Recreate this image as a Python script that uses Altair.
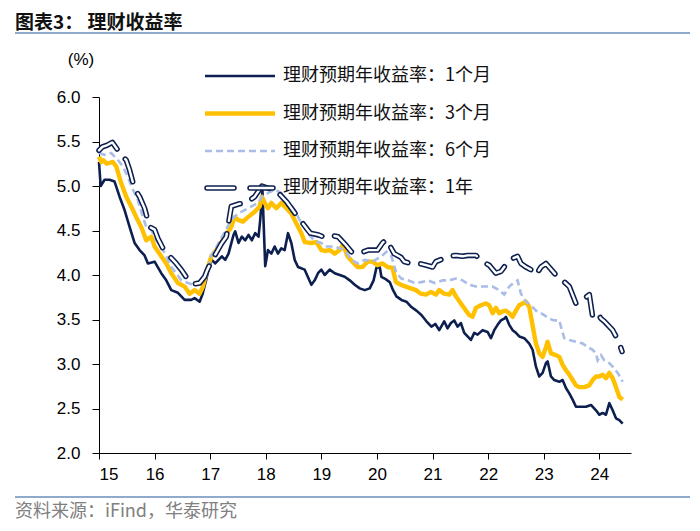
import altair as alt
import pandas as pd

# ---- data (decimal year, yield %) ----
m1_t = [2015.00, 2015.03, 2015.10, 2015.19, 2015.28, 2015.37, 2015.46, 2015.55, 2015.64, 2015.73, 2015.82, 2015.88,
        2016.00, 2016.12, 2016.21, 2016.30, 2016.42, 2016.54, 2016.66, 2016.72, 2016.81, 2016.86, 2016.93, 2016.98,
        2017.03, 2017.09, 2017.21, 2017.27, 2017.33, 2017.42, 2017.45, 2017.51, 2017.57, 2017.63, 2017.69, 2017.75,
        2017.81, 2017.87, 2017.90, 2017.94, 2017.99, 2018.04, 2018.10, 2018.16, 2018.22, 2018.28, 2018.34, 2018.40,
        2018.46, 2018.52, 2018.58, 2018.70, 2018.82, 2018.88, 2018.94, 2019.00, 2019.06, 2019.15, 2019.24, 2019.33,
        2019.42, 2019.51, 2019.60, 2019.69, 2019.78, 2019.87, 2019.94, 2019.99, 2020.05, 2020.08, 2020.14, 2020.23,
        2020.29, 2020.35, 2020.44, 2020.53, 2020.62, 2020.71, 2020.80, 2020.89, 2020.98, 2021.05, 2021.12, 2021.21,
        2021.27, 2021.33, 2021.39, 2021.45, 2021.51, 2021.57, 2021.63, 2021.69, 2021.75, 2021.81, 2021.90, 2021.99,
        2022.05, 2022.11, 2022.17, 2022.23, 2022.29, 2022.32, 2022.38, 2022.44, 2022.50, 2022.56, 2022.65, 2022.74,
        2022.80, 2022.86, 2022.92, 2022.98, 2023.04, 2023.07, 2023.13, 2023.19, 2023.28, 2023.34, 2023.40, 2023.46,
        2023.52, 2023.58, 2023.67, 2023.76, 2023.85, 2023.94, 2024.00, 2024.06, 2024.12, 2024.18, 2024.24, 2024.30,
        2024.36, 2024.42]
m1_v = [5.27, 5.00, 5.07, 5.07, 5.05, 4.88, 4.73, 4.54, 4.36, 4.28, 4.22, 4.13,
        4.15, 4.02, 3.94, 3.83, 3.80, 3.72, 3.72, 3.74, 3.70, 3.78, 3.95, 4.10,
        4.17, 4.13, 4.21, 4.17, 4.24, 4.45, 4.49, 4.36, 4.43, 4.39, 4.45, 4.39,
        4.47, 4.43, 4.62, 4.95, 4.10, 4.28, 4.24, 4.32, 4.24, 4.30, 4.28, 4.47,
        4.36, 4.17, 4.09, 4.06, 3.89, 3.94, 4.02, 4.06, 4.00, 4.06, 4.02, 4.00,
        3.98, 3.94, 3.89, 3.85, 3.83, 3.85, 3.94, 4.08, 4.09, 3.98, 3.96, 3.92,
        3.83, 3.76, 3.72, 3.70, 3.64, 3.60, 3.55, 3.48, 3.42, 3.45, 3.38, 3.48,
        3.40, 3.46, 3.49, 3.42, 3.46, 3.35, 3.31, 3.27, 3.35, 3.33, 3.38, 3.36,
        3.29, 3.38, 3.44, 3.49, 3.51, 3.53, 3.44, 3.38, 3.35, 3.31, 3.29, 3.23,
        3.16, 2.97, 2.86, 2.90, 3.01, 3.03, 2.86, 2.82, 2.80, 2.82, 2.73, 2.67,
        2.60, 2.52, 2.52, 2.52, 2.54, 2.48, 2.43, 2.45, 2.43, 2.56, 2.48, 2.39,
        2.37, 2.33]

m3_t = [2015.00, 2015.04, 2015.08, 2015.14, 2015.25, 2015.31, 2015.40, 2015.49, 2015.58, 2015.67, 2015.76, 2015.85,
        2015.94, 2016.00, 2016.12, 2016.21, 2016.30, 2016.42, 2016.54, 2016.63, 2016.72, 2016.81, 2016.87, 2016.93,
        2017.02, 2017.11, 2017.20, 2017.26, 2017.38, 2017.44, 2017.50, 2017.59, 2017.68, 2017.80, 2017.89, 2017.93,
        2017.98, 2018.04, 2018.10, 2018.19, 2018.28, 2018.37, 2018.46, 2018.55, 2018.64, 2018.70, 2018.82, 2018.91,
        2019.00, 2019.06, 2019.15, 2019.24, 2019.33, 2019.39, 2019.47, 2019.56, 2019.65, 2019.74, 2019.83, 2019.92,
        2020.01, 2020.10, 2020.19, 2020.28, 2020.34, 2020.43, 2020.52, 2020.61, 2020.70, 2020.79, 2020.88, 2020.97,
        2021.06, 2021.12, 2021.21, 2021.30, 2021.36, 2021.42, 2021.51, 2021.60, 2021.66, 2021.72, 2021.78, 2021.87,
        2021.96, 2022.02, 2022.08, 2022.14, 2022.20, 2022.26, 2022.32, 2022.38, 2022.44, 2022.50, 2022.56, 2022.62,
        2022.68, 2022.74, 2022.78, 2022.86, 2022.92, 2022.98, 2023.04, 2023.07, 2023.13, 2023.22, 2023.28, 2023.34,
        2023.40, 2023.46, 2023.52, 2023.58, 2023.64, 2023.73, 2023.82, 2023.88, 2023.94, 2024.00, 2024.06, 2024.12,
        2024.18, 2024.24, 2024.30, 2024.36, 2024.42]
m3_v = [5.33, 5.27, 5.29, 5.25, 5.27, 5.22, 5.03, 4.88, 4.77, 4.65, 4.54, 4.39,
        4.43, 4.32, 4.21, 4.13, 4.02, 3.91, 3.87, 3.79, 3.83, 3.79, 3.87, 4.02,
        4.21, 4.28, 4.37, 4.43, 4.54, 4.65, 4.62, 4.60, 4.65, 4.71, 4.77, 4.88,
        4.81, 4.75, 4.81, 4.75, 4.81, 4.75, 4.69, 4.58, 4.47, 4.37, 4.36, 4.37,
        4.28, 4.27, 4.28, 4.24, 4.28, 4.34, 4.21, 4.15, 4.09, 4.09, 4.15, 4.15,
        4.11, 4.13, 4.09, 4.08, 3.92, 3.89, 3.87, 3.85, 3.83, 3.79, 3.78, 3.81,
        3.78, 3.83, 3.79, 3.78, 3.83, 3.76, 3.68, 3.60, 3.55, 3.53, 3.63, 3.66,
        3.68, 3.66, 3.57, 3.63, 3.57, 3.59, 3.60, 3.57, 3.53, 3.60, 3.66, 3.68,
        3.70, 3.64, 3.50, 3.23, 3.12, 3.08, 3.19, 3.25, 3.12, 3.10, 3.08, 2.99,
        2.93, 2.88, 2.82, 2.76, 2.74, 2.74, 2.76, 2.82, 2.86, 2.86, 2.88, 2.84,
        2.90, 2.84, 2.74, 2.63, 2.60]

m6_t = [2015.00, 2015.10, 2015.22, 2015.34, 2015.43, 2015.52, 2015.61, 2015.70, 2015.79, 2015.85, 2015.94, 2016.03,
        2016.12, 2016.21, 2016.30, 2016.39, 2016.48, 2016.60, 2016.72, 2016.84, 2016.93, 2017.02, 2017.10, 2017.38,
        2017.50, 2017.68, 2017.86, 2017.93, 2018.04, 2018.16, 2018.28, 2018.40, 2018.52, 2018.64, 2018.76, 2018.88,
        2019.00, 2019.06, 2019.24, 2019.42, 2019.54, 2019.66, 2019.78, 2019.92, 2020.08, 2020.17, 2020.26, 2020.35,
        2020.44, 2020.56, 2020.68, 2020.80, 2020.92, 2021.04, 2021.18, 2021.30, 2021.42, 2021.54, 2021.66, 2021.78,
        2021.93, 2022.08, 2022.20, 2022.29, 2022.38, 2022.47, 2022.53, 2022.59, 2022.68, 2022.77, 2022.86, 2022.98,
        2023.10, 2023.19, 2023.28, 2023.31, 2023.37, 2023.46, 2023.58, 2023.70, 2023.79, 2023.88, 2023.94, 2023.97,
        2024.03, 2024.09, 2024.18, 2024.27, 2024.33, 2024.39, 2024.42]
m6_v = [5.37, 5.35, 5.37, 5.29, 5.22, 5.10, 4.96, 4.84, 4.65, 4.54, 4.51, 4.39,
        4.32, 4.21, 4.09, 4.02, 3.94, 3.91, 3.89, 3.91, 3.98, 4.22, 4.30, 4.62,
        4.69, 4.75, 4.81, 4.88, 4.92, 4.96, 4.92, 4.82, 4.73, 4.58, 4.47, 4.38,
        4.36, 4.32, 4.32, 4.28, 4.17, 4.13, 4.17, 4.15, 4.21, 4.26, 4.21, 4.02,
        3.96, 3.94, 3.91, 3.92, 3.94, 3.91, 3.94, 3.94, 3.96, 3.94, 3.89, 3.87,
        3.87, 3.87, 3.83, 3.78, 3.87, 3.92, 3.94, 3.79, 3.70, 3.66, 3.60, 3.56,
        3.51, 3.49, 3.49, 3.42, 3.29, 3.27, 3.25, 3.23, 3.19, 3.16, 3.12, 3.04,
        3.10, 3.04, 3.01, 2.95, 2.90, 2.84, 2.80]

y1_t = [2015.00, 2015.06, 2015.15, 2015.24, 2015.40, 2015.49, 2015.55, 2015.64, 2015.73, 2015.82, 2015.91, 2016.00,
        2016.06, 2016.15, 2016.27, 2016.39, 2016.48, 2016.63, 2016.72, 2016.81, 2016.90, 2016.95, 2017.02, 2017.11,
        2017.20, 2017.29, 2017.38, 2017.52, 2017.65, 2017.80, 2017.93, 2018.11, 2018.20, 2018.38, 2018.53, 2018.80,
        2018.95, 2019.03, 2019.15, 2019.30, 2019.42, 2019.54, 2019.66, 2019.84, 2020.01, 2020.10, 2020.17, 2020.31,
        2020.43, 2020.49, 2020.60, 2020.76, 2020.88, 2021.00, 2021.06, 2021.18, 2021.30, 2021.42, 2021.54, 2021.63,
        2021.78, 2021.87, 2021.96, 2022.02, 2022.14, 2022.23, 2022.29, 2022.38, 2022.53, 2022.59, 2022.68, 2022.80,
        2022.86, 2022.95, 2023.04, 2023.22, 2023.34, 2023.46, 2023.58, 2023.70, 2023.82, 2023.88, 2023.97, 2024.03,
        2024.09, 2024.24, 2024.30, 2024.36, 2024.41]
y1_v = [5.40, 5.44, 5.46, 5.49, 5.35, 5.29, 5.18, 4.97, 4.88, 4.75, 4.54, 4.51,
        4.41, 4.30, 4.21, 4.13, 4.06, 3.92, 3.90, 3.91, 3.98, 4.06, 4.15, 4.25,
        4.35, 4.43, 4.77, 4.80, 4.81, 4.88, 5.00, 4.96, 4.94, 4.82, 4.69, 4.47,
        4.45, 4.43, 4.45, 4.43, 4.35, 4.26, 4.24, 4.28, 4.28, 4.36, 4.40, 4.24,
        4.20, 4.15, 4.13, 4.13, 4.11, 4.09, 4.15, 4.18, 4.21, 4.22, 4.21, 4.22,
        4.22, 4.17, 4.13, 4.11, 4.02, 4.04, 4.09, 4.17, 4.21, 4.13, 4.09, 4.05,
        4.00, 4.09, 4.13, 4.00, 3.94, 3.87, 3.68, 3.72, 3.78, 3.53, 3.57, 3.51,
        3.48, 3.38, 3.31, 3.23, 3.14]

year_ticks = [2015, 2016, 2017, 2018, 2019, 2020, 2021, 2022, 2023, 2024]
y_ticks = [2.0, 2.5, 3.0, 3.5, 4.0, 4.5, 5.0, 5.5, 6.0]
legend_labels = ["理财预期年收益率：1个月", "理财预期年收益率：3个月", "理财预期年收益率：6个月", "理财预期年收益率：1年"]
title_text = "图表3：  理财收益率"
source_text = "资料来源：iFind，华泰研究"

NAVY = "#0C1F4F"
GOLD = "#FFC000"
LBLUE = "#A9BDE7"
RULE = "#8FAACB"
LATIN = "Liberation Sans"
CJK = "Noto Sans CJK SC"


def frame(t, v):
    return pd.DataFrame({"t": t, "v": v})


X = alt.X("t:Q", scale=alt.Scale(domain=[2015, 2024.57], nice=False, zero=False),
          axis=alt.Axis(values=year_ticks, labelExpr="format(datum.value - 2000, 'd')", grid=False,
                        tickSize=6, labelPadding=7, domainColor="#000", tickColor="#000",
                        labelFontSize=17, labelFont=LATIN, labelColor="#000", title=None))
Y = alt.Y("v:Q", scale=alt.Scale(domain=[2, 6], nice=False, zero=False),
          axis=alt.Axis(values=y_ticks, format=".1f", grid=False, tickSize=7, labelPadding=12,
                        domainColor="#000", tickColor="#000", labelFontSize=17, labelFont=LATIN,
                        labelColor="#000", title=None))

l1 = alt.Chart(frame(m1_t, m1_v)).mark_line(color=NAVY, strokeWidth=2.6, strokeJoin="round").encode(x=X, y=Y)
l3 = alt.Chart(frame(m3_t, m3_v)).mark_line(color=GOLD, strokeWidth=4.4, strokeJoin="round").encode(x=X, y=Y)
l6 = alt.Chart(frame(m6_t, m6_v)).mark_line(color=LBLUE, strokeWidth=2.6, strokeDash=[7, 4]).encode(x=X, y=Y)
ly_out = alt.Chart(frame(y1_t, y1_v)).mark_line(color=NAVY, strokeWidth=5.5, strokeDash=[24, 13],
                                                strokeCap="round", strokeJoin="round").encode(x=X, y=Y)
ly_in = alt.Chart(frame(y1_t, y1_v)).mark_line(color="white", strokeWidth=2.4, strokeDash=[24, 13],
                                               strokeCap="round", strokeJoin="round").encode(x=X, y=Y)

dummy = alt.Data(values=[{}])


def rule(x1, x2, y, **kw):
    return alt.Chart(dummy).mark_rule(**kw).encode(x=alt.value(x1), x2=alt.value(x2), y=alt.value(y))


def text(x, y, s, **kw):
    return alt.Chart(dummy).mark_text(**kw).encode(x=alt.value(x), y=alt.value(y), text=alt.value(s))


deco = [
    text(-84, -74, title_text, font=CJK, fontSize=19, fontWeight="bold", align="left", baseline="middle", color="#111"),
    rule(-84, 591, -64, color=RULE, strokeWidth=2),
    text(-18, -37, "(%)", font=LATIN, fontSize=17, align="center", baseline="middle", color="#000"),
    rule(-84, 591, 400, color=RULE, strokeWidth=2),
    text(-84, 415, source_text, font=CJK, fontSize=18, align="left", baseline="middle", color="#808080"),
]

leg_y = [-21, 16.5, 54, 91]
lx1, lx2, tx = 106, 176, 184
legend = [
    rule(lx1, lx2, leg_y[0], color=NAVY, strokeWidth=2.6),
    rule(lx1, lx2, leg_y[1], color=GOLD, strokeWidth=4.4),
    rule(lx1, lx2, leg_y[2], color=LBLUE, strokeWidth=2.6, strokeDash=[7, 4]),
    rule(lx1 + 2, lx2 - 2, leg_y[3], color=NAVY, strokeWidth=5.5, strokeDash=[27, 16], strokeCap="round"),
    rule(lx1 + 2, lx2 - 2, leg_y[3], color="white", strokeWidth=2.4, strokeDash=[27, 16], strokeCap="round"),
]
for yy, lab in zip(leg_y, legend_labels):
    legend.append(text(tx, yy, lab, font=CJK + ", " + LATIN, fontSize=18, align="left", baseline="middle",
                       color="#111"))

chart = alt.layer(l1, l3, l6, ly_out, ly_in, *deco, *legend).properties(
    width=532, height=356,
    autosize=alt.AutoSizeParams(type="none"),
    padding={"left": 91, "top": 89, "right": 61, "bottom": 70},
).configure_view(strokeWidth=0)

chart.save("out.html", embed_options={"renderer": "svg", "actions": False})
